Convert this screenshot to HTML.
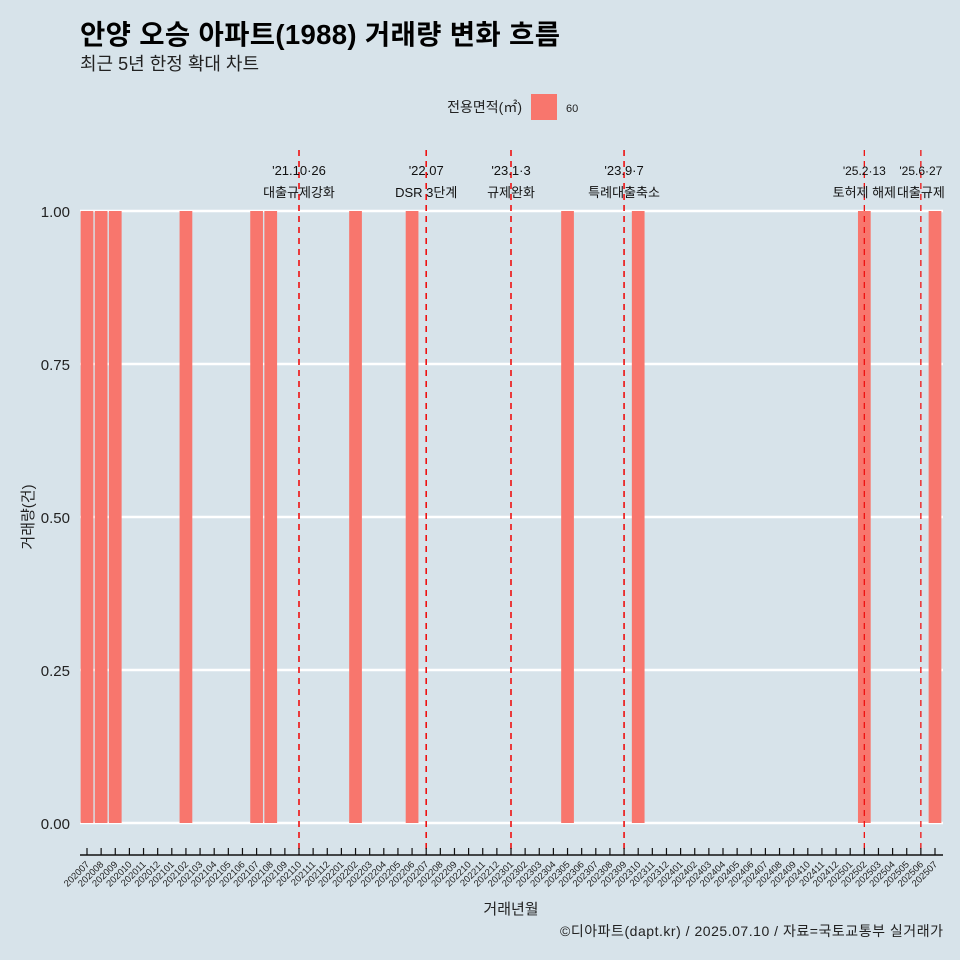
<!DOCTYPE html>
<html><head><meta charset="utf-8"><style>
body{margin:0;background:#d7e3ea;}
svg{display:block;font-family:"Liberation Sans","Noto Sans CJK KR",sans-serif;}
</style></head><body>
<svg id="c" width="960" height="960" xmlns="http://www.w3.org/2000/svg">
<rect width="960" height="960" fill="#d7e3ea"/>
<text x="80" y="44" font-size="27.5" font-weight="bold" fill="#000" textLength="480">안양 오승 아파트(1988) 거래량 변화 흐름</text>
<text x="80" y="70" font-size="18" fill="#222">최근 5년 한정 확대 차트</text>
<g>
<text x="522" y="112" font-size="14" text-anchor="end" fill="#222">전용면적(㎡)</text>
<rect x="531" y="94" width="26" height="26" fill="#f8766d"/>
<text x="566" y="112" font-size="11" fill="#222">60</text>
</g>
<g id="grid"></g><g id="bars"></g><g id="events"></g><g id="axes"></g>
<text x="511" y="914" font-size="15" text-anchor="middle" fill="#222">거래년월</text>
<text transform="translate(33,517) rotate(-90)" font-size="15" text-anchor="middle" fill="#222">거래량(건)</text>
<text x="943" y="936" font-size="14" text-anchor="end" fill="#222" textLength="383">©디아파트(dapt.kr) / 2025.07.10 / 자료=국토교통부 실거래가</text>
</svg>
<script>
const months = [];
for (let y = 2020; y <= 2025; y++) for (let m = 1; m <= 12; m++) { const k = y*100+m; if (k >= 202007 && k <= 202507) months.push(String(k)); }
const barMonths = ["202007","202008","202009","202102","202107","202108","202202","202206","202305","202310","202502","202507"];
const barValues = [1,1,1,1,1,1,1,1,1,1,1,1];
const yTicks = [0, 0.25, 0.5, 0.75, 1.0];
const yTickLabels = ["0.00","0.25","0.50","0.75","1.00"];
const eventMonths = ["202110","202207","202301","202309","202502","202506"];
const eventDates = ["'21.10·26","'22.07","'23.1·3","'23.9·7","'25.2·13","'25.6·27"];
const eventLabels = ["대출규제강화","DSR 3단계","규제완화","특례대출축소","토허제 해제","대출규제"];

const NS = "http://www.w3.org/2000/svg";
const L = 80, R = 943, T = 150, B = 855;
const x0 = 87, step = (935 - 87) / 60;
const xs = m => x0 + months.indexOf(m) * step;
const ys = v => 823 - v * (823 - 211);
function mk(tag, attrs, parent, txt) {
  const e = document.createElementNS(NS, tag);
  for (const k in attrs) e.setAttribute(k, attrs[k]);
  if (txt !== undefined) e.textContent = txt;
  document.getElementById(parent).appendChild(e);
  return e;
}
yTicks.forEach((v, i) => {
  let e = mk("line", {x1: L, x2: R, y1: ys(v), y2: ys(v), stroke: "#fff", "stroke-width": 2.5}, "grid");
  
  
  e = mk("text", {x: 70, y: ys(v) + 6, "text-anchor": "end", "font-size": 15, fill: "#222"}, "axes", yTickLabels[i]);
  
  
});
const bw = step * 0.9;
barMonths.forEach((m, i) => {
  const e = mk("rect", {x: xs(m) - bw/2, y: ys(barValues[i]), width: bw, height: ys(0) - ys(barValues[i]), fill: "#f8766d"}, "bars");
  
  
});
eventMonths.forEach((m, i) => {
  const x = xs(m);
  const small = i >= 4;
  let e = mk("line", {x1: x, x2: x, y1: T, y2: B, stroke: "#ee1111", "stroke-width": small ? 1.3 : 1.6, "stroke-dasharray": "6,5"}, "events");
  
  
  e = mk("text", {x: x, y: 175, "text-anchor": "middle", "font-size": small ? 12 : 13, fill: "#111"}, "events", eventDates[i]);
  
  
  e = mk("text", {x: x, y: 197, "text-anchor": "middle", "font-size": 13, fill: "#111"}, "events", eventLabels[i]);
  
  
});
let ax = mk("line", {x1: L, x2: R, y1: B, y2: B, stroke: "#111", "stroke-width": 1.5}, "axes");


months.forEach(m => {
  const x = xs(m);
  let e = mk("line", {x1: x, x2: x, y1: B - 7, y2: B, stroke: "#111", "stroke-width": 1.2}, "axes");
  
  
  e = mk("text", {transform: `translate(${x + 3},${B + 10}) rotate(-45)`, "text-anchor": "end", "font-size": 9.5, fill: "#222"}, "axes", m);
  
  
});
</script>
</body></html>
